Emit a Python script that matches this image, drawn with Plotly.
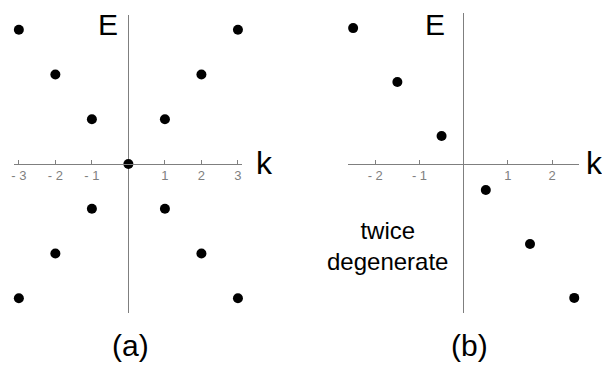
import plotly.graph_objects as go

# panel (a): allowed k and E states
k_a = [-3, -2, -1, 0, 1, 2, 3, -3, -2, -1, 1, 2, 3]
e_a = [3, 2, 1, 0, 1, 2, 3, -3, -2, -1, -1, -2, -3]
ticks_a = [-3, -2, -1, 1, 2, 3]
ticktext_a = ["- 3", "- 2", "- 1", "1", "2", "3"]

# panel (b): twice degenerate states
k_b = [-2.5, -1.5, -0.5, 0.5, 1.5, 2.5]
e_b = [2.5, 1.5, 0.5, -0.5, -1.5, -2.5]
ticks_b = [-2, -1, 1, 2]
ticktext_b = ["- 2", "- 1", "1", "2"]

# the page body has an 8px margin, so the figure is shrunk to fit the window
OFF = 8
W, H = 610 - 2 * OFF, 371 - 2 * OFF
FONT = "Liberation Sans, Arial, sans-serif"
GRAY = "#7f7f7f"


def px_x(x):
    return (x - OFF) / W


def px_y(y):
    return 1 - (y - OFF) / H


fig = go.Figure()
fig.add_trace(go.Scatter(x=k_a, y=e_a, mode="markers", xaxis="x", yaxis="y",
                         marker=dict(color="black", size=10), cliponaxis=False))
fig.add_trace(go.Scatter(x=k_b, y=e_b, mode="markers", xaxis="x2", yaxis="y2",
                         marker=dict(color="black", size=10), cliponaxis=False))

axis_y_pos = px_y(163.5)


def xax(domain, rng, vals, text):
    return dict(
        domain=domain, range=rng, anchor="free", position=axis_y_pos,
        showline=True, linecolor=GRAY, linewidth=1,
        ticks="inside", ticklen=4, tickcolor=GRAY,
        tickvals=vals, ticktext=text, ticklabeloverflow="allow",
        tickfont=dict(family=FONT, size=13, color=GRAY),
        showgrid=False, zeroline=True, zerolinecolor=GRAY, zerolinewidth=1,
    )


def yax(domain, rng, anchor):
    return dict(domain=domain, range=rng, anchor=anchor, showgrid=False,
                zeroline=False, showticklabels=False, showline=False, ticks="")


fig.update_layout(
    width=W, height=H, autosize=False,
    margin=dict(l=0, r=0, t=0, b=0),
    paper_bgcolor="white", plot_bgcolor="white",
    showlegend=False,
    xaxis=xax([px_x(11.5), px_x(240.5)], [-3.12, 3.12], ticks_a, ticktext_a),
    yaxis=yax([px_y(313), px_y(15)], [-3.33, 3.33], "x"),
    xaxis2=xax([px_x(347), px_x(579)], [-2.61, 2.61], ticks_b, ticktext_b),
    yaxis2=yax([px_y(313), px_y(13)], [-2.78, 2.78], "x2"),
)


def label(text, x, y, size):
    fig.add_annotation(text=text, x=px_x(x), y=px_y(y), xref="paper", yref="paper",
                       showarrow=False, xanchor="center", yanchor="middle",
                       font=dict(family=FONT, size=size, color="black"))


label("E", 105, 24, 30)
label("k", 263, 163, 32)
label("E", 434, 24, 30)
label("k", 594, 163, 32)
label("(a)", 128, 345, 30)
label("(b)", 469, 345, 30)
label("twice<br>degenerate", 386, 246, 24)

fig.write_html("out.html")
